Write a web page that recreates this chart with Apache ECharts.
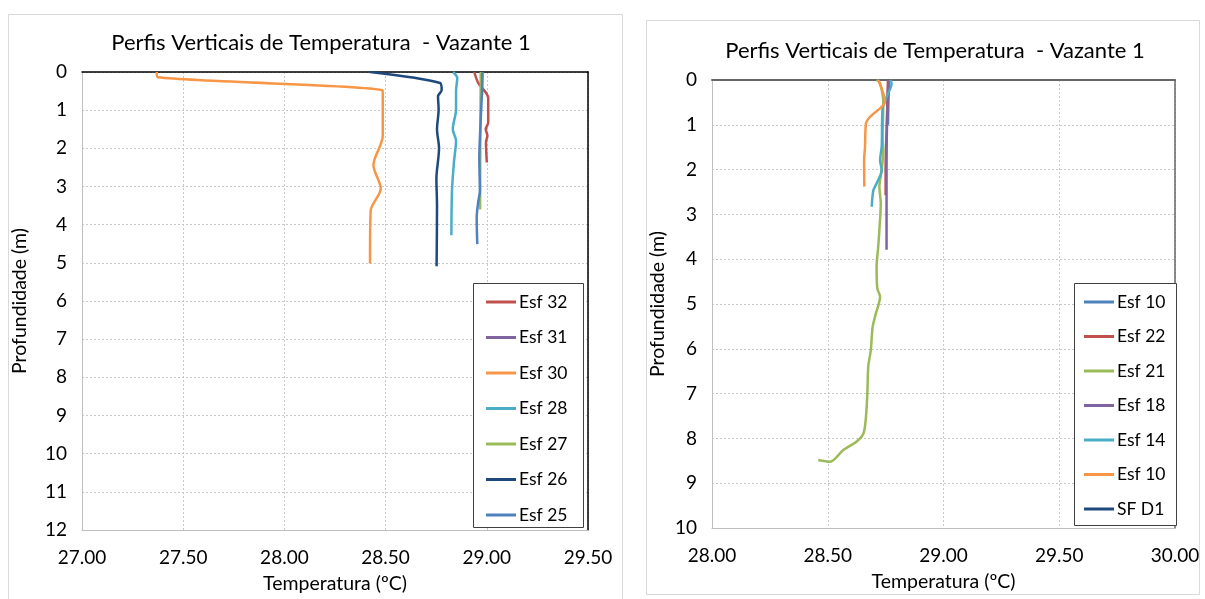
<!DOCTYPE html>
<html><head><meta charset="utf-8">
<script src="https://cdn.jsdelivr.net/npm/echarts@6/dist/echarts.min.js"></script>
<style>html,body{margin:0;padding:0;background:#fff}#c{width:1205px;height:599px}</style>
</head><body><div id="c"></div>
<script>
// ---------- texts ----------
const chartTitle = 'Perfis Verticais de Temperatura  - Vazante 1';
const xName = 'Temperatura (ºC)';
const yName = 'Profundidade (m)';

// ---------- left chart data (temperature ºC, depth m) ----------
const leftNames = ['Esf 32', 'Esf 31', 'Esf 30', 'Esf 28', 'Esf 27', 'Esf 26', 'Esf 25'];
const esf32T = [28.938, 28.958, 28.991, 29.007, 29.007, 28.995, 29.003, 28.996, 29.000];
const esf32D = [0, 0.29, 0.51, 0.68, 1.32, 1.50, 1.67, 1.84, 2.37];
const esf31T = [28.978, 28.977, 28.976];
const esf31D = [0, 0.3, 0.6];
const esf30T = [27.369, 27.375, 28.485, 28.486, 28.486, 28.440, 28.476, 28.426, 28.423];
const esf30D = [0, 0.14, 0.48, 0.60, 1.67, 2.44, 3.05, 3.64, 5.02];
const esf28T = [28.834, 28.854, 28.848, 28.848, 28.832, 28.848, 28.838, 28.828, 28.825];
const esf28D = [0, 0.16, 0.50, 0.98, 1.50, 1.80, 2.35, 3.10, 4.28];
const esf27T = [28.970, 28.968, 28.967];
const esf27D = [0, 1.8, 3.6];
const esf26T = [28.423, 28.769, 28.777, 28.759, 28.762, 28.754, 28.764, 28.751, 28.754, 28.752];
const esf26D = [0, 0.29, 0.47, 0.64, 0.98, 1.50, 2.00, 2.80, 3.50, 5.09];
const esf25T = [28.978, 28.976, 28.970, 28.963, 28.966, 28.958, 28.950, 28.953];
const esf25D = [0, 0.54, 1.24, 2.27, 3.12, 3.39, 3.82, 4.51];

// ---------- right chart data ----------
const rightNames = ['Esf 10', 'Esf 22', 'Esf 21', 'Esf 18', 'Esf 14', 'Esf 10 ', 'SF D1'];
const esf10aT = [28.765, 28.762, 28.760];
const esf10aD = [0, 0.5, 1.0];
const esf22T = [28.760, 28.755, 28.750, 28.750];
const esf22D = [0, 1.0, 2.0, 2.57];
const esf21T = [28.711, 28.726, 28.740, 28.737, 28.740, 28.733, 28.723, 28.729, 28.723, 28.718, 28.711, 28.714, 28.726, 28.708, 28.694, 28.686, 28.675, 28.671, 28.665, 28.654, 28.625, 28.567, 28.510, 28.459];
const esf21D = [0, 0.07, 0.52, 1.27, 1.56, 2.01, 2.38, 2.75, 3.35, 3.72, 4.17, 4.65, 4.84, 5.21, 5.51, 6.03, 6.40, 6.99, 7.52, 7.89, 8.07, 8.26, 8.52, 8.48];
const esf18T = [28.762, 28.756, 28.754, 28.754];
const esf18D = [0, 0.96, 2.0, 3.79];
const esf14T = [28.769, 28.776, 28.755, 28.737, 28.733, 28.726, 28.733, 28.711, 28.697, 28.690];
const esf14D = [0, 0.07, 0.37, 0.63, 1.49, 1.79, 2.01, 2.31, 2.46, 2.83];
const esf10bT = [28.718, 28.747, 28.683, 28.665, 28.661, 28.657, 28.658];
const esf10bD = [0, 0.48, 0.82, 0.97, 1.49, 1.79, 2.38];
const sfd1T = [];
const sfd1D = [];

// ---------- axis ticks ----------
const leftX = {min: 27, max: 29.5, interval: 0.5};
const leftY = {min: 0, max: 12, interval: 1};
const rightX = {min: 28, max: 30, interval: 0.5};
const rightY = {min: 0, max: 10, interval: 1};

const colors = {red:'#C0504D', purple:'#8064A2', orange:'#F79646', teal:'#4BACC6', green:'#9BBB59', navy:'#1F497D', blue:'#4F81BD'};
const FONT = 'Lato';

function pairs(t, d){ return t.map((v,i)=>[v, d[i]]); }

const leftSeriesDef = [
  [leftNames[0], esf32T, esf32D, colors.red],
  [leftNames[1], esf31T, esf31D, colors.purple],
  [leftNames[2], esf30T, esf30D, colors.orange],
  [leftNames[3], esf28T, esf28D, colors.teal],
  [leftNames[4], esf27T, esf27D, colors.green],
  [leftNames[5], esf26T, esf26D, colors.navy],
  [leftNames[6], esf25T, esf25D, colors.blue]
];
const rightSeriesDef = [
  [rightNames[0], esf10aT, esf10aD, colors.blue],
  [rightNames[1], esf22T, esf22D, colors.red],
  [rightNames[2], esf21T, esf21D, colors.green],
  [rightNames[3], esf18T, esf18D, colors.purple],
  [rightNames[4], esf14T, esf14D, colors.teal],
  [rightNames[5], esf10bT, esf10bD, colors.orange],
  [rightNames[6], sfd1T, sfd1D, colors.navy]
];

function mkSeries(def, gi){
  return def.map(([name, t, d, c]) => ({
    name, type: 'line', xAxisIndex: gi*2, yAxisIndex: gi*2,
    data: pairs(t, d), showSymbol: false, symbol: 'none', smooth: 0.3,
    lineStyle: {color: c, width: 2.5}, itemStyle: {color: c}, animation: false
  }));
}

const lbl = {fontFamily: FONT, fontSize: 19, color: '#000'};
const nameStyle = {fontFamily: FONT, fontSize: 19.5, color: '#000'};

function xAxes(r, gi){
  return [
    {type:'value', gridIndex: gi, position:'bottom', min:r.min, max:r.max, interval:r.interval,
     axisLine:{show:true, onZero:false, lineStyle:{color:'#bfbfbf', width:1}}, axisTick:{show:false},
     axisLabel:Object.assign({formatter: v => v.toFixed(2), margin: 18}, lbl),
     splitLine:{show:true, lineStyle:{color:'#c8c8c8', type:[2,2], width:1}},
     name: xName, nameLocation:'middle', nameGap: 44, nameTextStyle: nameStyle},
    {type:'value', gridIndex: gi, position:'top', min:r.min, max:r.max, interval:r.interval,
     axisLine:{show:true, onZero:false, lineStyle:{color: gi===0 ? '#000' : '#666', width: gi===0 ? 1.5 : 2}}, axisTick:{show:false},
     axisLabel:{show:false}, splitLine:{show:false}}
  ];
}
function yAxes(r, gi){
  return [
    {type:'value', gridIndex: gi, position:'left', inverse:true, min:r.min, max:r.max, interval:r.interval,
     axisLine:{show:true, onZero:false, lineStyle:{color:'#bfbfbf', width:1}}, axisTick:{show:false},
     axisLabel:Object.assign({margin: 15}, lbl),
     splitLine:{show:true, lineStyle:{color:'#c8c8c8', type:[2,2], width:1}},
     name: yName, nameLocation:'middle', nameGap: gi===0 ? 52 : 44, nameRotate: 90, nameTextStyle: nameStyle},
    {type:'value', gridIndex: gi, position:'right', inverse:true, min:r.min, max:r.max, interval:r.interval,
     axisLine:{show:true, onZero:false, lineStyle:{color: gi===0 ? '#000' : '#666', width:1.5}}, axisTick:{show:false},
     axisLabel:{show:false}, splitLine:{show:false}}
  ];
}

function mkLegend(names, left, top, gap){
  return {
    data: names, orient:'vertical', left, top, itemWidth: 30, itemHeight: 3, itemGap: gap,
    icon: 'rect', padding: 0, z: 10,
    formatter: n => n.trim(),
    textStyle: {fontFamily: FONT, fontSize: 17.5, color: '#000', lineHeight: 20, padding:[0,0,0,-2]}
  };
}

const option = {
  backgroundColor: '#fff',
  animation: false,
  title: [
    {text: chartTitle, left: 316, top: 27, textAlign: 'center', textStyle: {fontFamily: FONT, fontSize: 22, fontWeight: 'normal', color:'#000'}},
    {text: chartTitle, left: 930, top: 35, textAlign: 'center', textStyle: {fontFamily: FONT, fontSize: 22, fontWeight: 'normal', color:'#000'}}
  ],
  grid: [
    {left: 82, top: 72, width: 506, height: 465, containLabel: false},
    {left: 712, top: 80, width: 463, height: 448, containLabel: false}
  ],
  xAxis: xAxes(leftX, 0).concat(xAxes(rightX, 1)),
  yAxis: yAxes(leftY, 0).concat(yAxes(rightY, 1)),
  legend: [mkLegend(leftNames, 486, 292, 15.5), mkLegend(rightNames, 1084, 292, 14.5)],
  graphic: [
    {type:'rect', shape:{x:8.5, y:14.5, width:614, height:600}, style:{fill:'none', stroke:'#d9d9d9', lineWidth:1}, z:0, silent:true},
    {type:'rect', shape:{x:646.5, y:20.5, width:553, height:574}, style:{fill:'none', stroke:'#d9d9d9', lineWidth:1}, z:0, silent:true},
    {type:'rect', shape:{x:473.5, y:283.5, width:110, height:244}, style:{fill:'#fff', stroke:'#404040', lineWidth:1}, z:3, silent:true},
    {type:'rect', shape:{x:1074.5, y:283.5, width:102, height:242}, style:{fill:'#fff', stroke:'#404040', lineWidth:1}, z:3, silent:true}
  ],
  series: mkSeries(leftSeriesDef, 0).concat(mkSeries(rightSeriesDef, 1))
};

const chart = echarts.init(document.getElementById('c'), null, {renderer:'canvas'});
chart.setOption(option);
</script>
</body></html>
